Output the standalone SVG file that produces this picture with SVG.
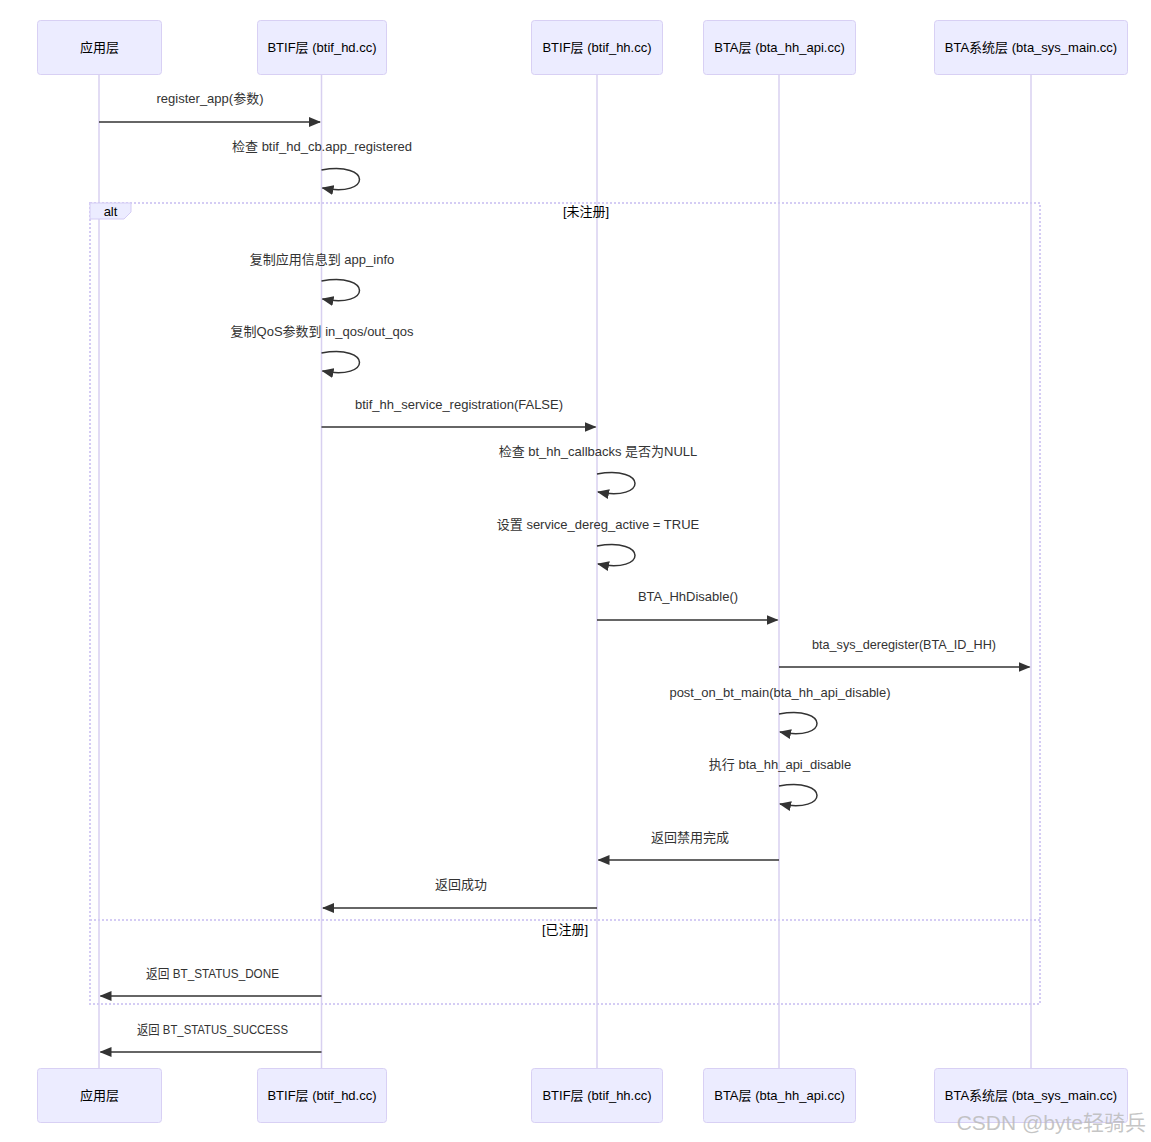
<svg xmlns="http://www.w3.org/2000/svg" width="1151" height="1142" viewBox="0 0 1151 1142">
<style>
text{font-family:"Liberation Sans","Noto Sans CJK SC",sans-serif;fill:#333;}
.actor{fill:#ECECFF;stroke:#d8d0f4;stroke-width:1;}
.atext{font-size:13px;text-anchor:middle;dominant-baseline:central;fill:#000;}
.life{stroke:#d8d0f0;stroke-width:1.5;}
.msg{stroke:#333;stroke-width:1.5;fill:none;}
.mtext{font-size:13px;text-anchor:middle;}
.loopline{stroke:#d4ccf4;stroke-width:2;stroke-dasharray:2,2;fill:none;}
.ltext{font-size:13px;text-anchor:middle;fill:#000;}
</style>
<defs>
<marker id="arrow" viewBox="0 0 12 12" refX="11" refY="6" markerWidth="12" markerHeight="12" markerUnits="userSpaceOnUse" orient="auto">
<path d="M0,1 L12,6 L0,11 z" fill="#333"/>
</marker>
</defs>
<rect width="1151" height="1142" fill="#fff"/>
<g id="lifelines">
<line class="life" x1="99" y1="74" x2="99" y2="1068"/>
<line class="life" x1="321.5" y1="74" x2="321.5" y2="1068"/>
<line class="life" x1="597" y1="74" x2="597" y2="1068"/>
<line class="life" x1="779" y1="74" x2="779" y2="1068"/>
<line class="life" x1="1031" y1="74" x2="1031" y2="1068"/>
</g>
<g id="alt">
<rect class="loopline" x="90" y="203" width="950" height="801"/>
<line class="loopline" x1="90" y1="920" x2="1040" y2="920"/>
<polygon points="90,203 131,203 131,212 124,219 90,219" fill="#ECECFF" stroke="#d4ccf4"/>
<text x="110.5" y="216" class="ltext">alt</text>
<text x="586" y="216" class="ltext">[未注册]</text>
<text x="565" y="934" class="ltext">[已注册]</text>
</g>
<g id="actor-app-top"><rect class="actor" x="37.5" y="20.5" width="124" height="54" rx="3"/><text class="atext" x="99.5" y="47.5">应用层</text></g>
<g id="actor-btifhd-top"><rect class="actor" x="257.5" y="20.5" width="129" height="54" rx="3"/><text class="atext" x="322" y="47.5">BTIF层 (btif_hd.cc)</text></g>
<g id="actor-btifhh-top"><rect class="actor" x="531.5" y="20.5" width="131" height="54" rx="3"/><text class="atext" x="597" y="47.5">BTIF层 (btif_hh.cc)</text></g>
<g id="actor-bta-top"><rect class="actor" x="703.5" y="20.5" width="152" height="54" rx="3"/><text class="atext" x="779.5" y="47.5">BTA层 (bta_hh_api.cc)</text></g>
<g id="actor-btasys-top"><rect class="actor" x="934.5" y="20.5" width="193" height="54" rx="3"/><text class="atext" x="1031" y="47.5">BTA系统层 (bta_sys_main.cc)</text></g>
<g id="actor-app-bottom"><rect class="actor" x="37.5" y="1068.5" width="124" height="54" rx="3"/><text class="atext" x="99.5" y="1095.5">应用层</text></g>
<g id="actor-btifhd-bottom"><rect class="actor" x="257.5" y="1068.5" width="129" height="54" rx="3"/><text class="atext" x="322" y="1095.5">BTIF层 (btif_hd.cc)</text></g>
<g id="actor-btifhh-bottom"><rect class="actor" x="531.5" y="1068.5" width="131" height="54" rx="3"/><text class="atext" x="597" y="1095.5">BTIF层 (btif_hh.cc)</text></g>
<g id="actor-bta-bottom"><rect class="actor" x="703.5" y="1068.5" width="152" height="54" rx="3"/><text class="atext" x="779.5" y="1095.5">BTA层 (bta_hh_api.cc)</text></g>
<g id="actor-btasys-bottom"><rect class="actor" x="934.5" y="1068.5" width="193" height="54" rx="3"/><text class="atext" x="1031" y="1095.5">BTA系统层 (bta_sys_main.cc)</text></g>
<g id="connectors">
<text class="mtext" x="210" y="103">register_app(参数)</text>
<line class="msg" x1="99" y1="122" x2="320" y2="122" marker-end="url(#arrow)"/>
<text class="mtext" x="322" y="151">检查 btif_hd_cb.app_registered</text>
<path class="msg" d="M321.5,170 C372,161 372,198 322.5,188" marker-end="url(#arrow)"/>
<text class="mtext" x="322" y="264">复制应用信息到 app_info</text>
<path class="msg" d="M321.5,281 C372,272 372,309 322.5,299" marker-end="url(#arrow)"/>
<text class="mtext" x="322" y="336">复制QoS参数到 in_qos/out_qos</text>
<path class="msg" d="M321.5,353 C372,344 372,381 322.5,371" marker-end="url(#arrow)"/>
<text class="mtext" x="459" y="409">btif_hh_service_registration(FALSE)</text>
<line class="msg" x1="321.5" y1="427" x2="595.5" y2="427" marker-end="url(#arrow)"/>
<text class="mtext" x="598" y="456">检查 bt_hh_callbacks 是否为NULL</text>
<path class="msg" d="M597,474 C647.5,465 647.5,502 598,492" marker-end="url(#arrow)"/>
<text class="mtext" x="598" y="529">设置 service_dereg_active = TRUE</text>
<path class="msg" d="M597,546 C647.5,537 647.5,574 598,564" marker-end="url(#arrow)"/>
<text class="mtext" x="688" y="601">BTA_HhDisable()</text>
<line class="msg" x1="597" y1="620" x2="777.5" y2="620" marker-end="url(#arrow)"/>
<text class="mtext" x="904" y="649" textLength="184" lengthAdjust="spacingAndGlyphs">bta_sys_deregister(BTA_ID_HH)</text>
<line class="msg" x1="779" y1="667" x2="1029.5" y2="667" marker-end="url(#arrow)"/>
<text class="mtext" x="780" y="697">post_on_bt_main(bta_hh_api_disable)</text>
<path class="msg" d="M779,714 C829.5,705 829.5,742 780,732" marker-end="url(#arrow)"/>
<text class="mtext" x="780" y="769">执行 bta_hh_api_disable</text>
<path class="msg" d="M779,786 C829.5,777 829.5,814 780,804" marker-end="url(#arrow)"/>
<text class="mtext" x="690" y="842">返回禁用完成</text>
<line class="msg" x1="779" y1="860" x2="598.5" y2="860" marker-end="url(#arrow)"/>
<text class="mtext" x="461" y="889">返回成功</text>
<line class="msg" x1="597" y1="908" x2="323" y2="908" marker-end="url(#arrow)"/>
<text class="mtext" x="212.5" y="978" textLength="133" lengthAdjust="spacingAndGlyphs">返回 BT_STATUS_DONE</text>
<line class="msg" x1="321.5" y1="996" x2="100.5" y2="996" marker-end="url(#arrow)"/>
<text class="mtext" x="212.5" y="1034" textLength="151" lengthAdjust="spacingAndGlyphs">返回 BT_STATUS_SUCCESS</text>
<line class="msg" x1="321.5" y1="1052" x2="100.5" y2="1052" marker-end="url(#arrow)"/>
</g>
<text x="1146" y="1130" style="font-size:21px;text-anchor:end;fill:#bbb;fill-opacity:0.85;">CSDN @byte轻骑兵</text>
</svg>
